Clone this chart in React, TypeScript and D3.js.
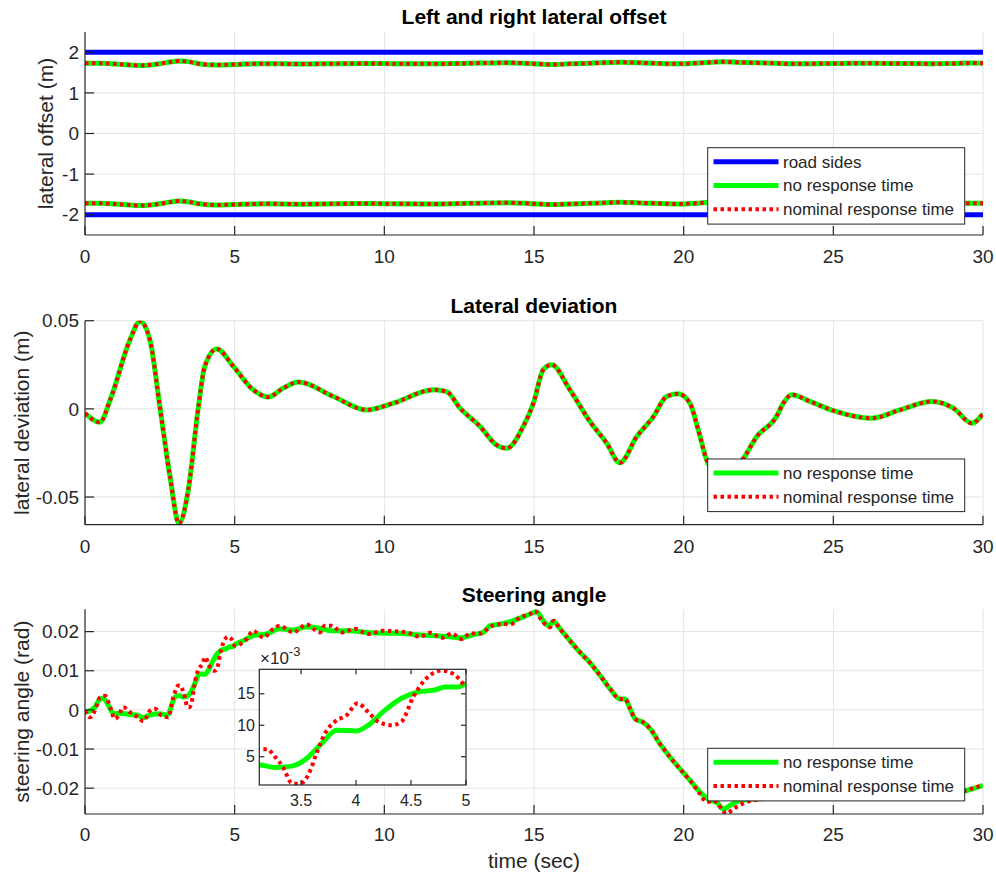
import React from 'react';
import * as d3 from 'd3';

// ---------- data ----------
const xTicks = [0, 5, 10, 15, 20, 25, 30];

// Panel 1: lateral offsets
const roadT = [0, 30];
const roadLeft = [2, 2];
const roadRight = [-2, -2];
const offsetT = [0, 0.5, 0.84, 1.5, 1.84, 2.17, 2.5, 2.84, 3.14, 3.45, 3.79, 4.4, 4.96, 5.62, 6.12, 7.13, 8.3, 9.41, 10.3, 11.64, 12.53, 13.2, 14.09, 14.98, 15.59, 16.2, 16.87, 17.87, 18.99, 19.82, 20.49, 21.3, 22.0, 22.44, 23.1, 23.61, 24.22, 25.0, 26.28, 27.23, 28.29, 29.01, 29.63, 30];
const offsetLeftNo = [1.73, 1.73, 1.72, 1.69, 1.675, 1.69, 1.72, 1.76, 1.785, 1.77, 1.72, 1.69, 1.7, 1.715, 1.72, 1.71, 1.72, 1.725, 1.72, 1.715, 1.725, 1.735, 1.745, 1.72, 1.7, 1.715, 1.73, 1.755, 1.73, 1.715, 1.735, 1.765, 1.75, 1.74, 1.73, 1.715, 1.72, 1.725, 1.73, 1.725, 1.72, 1.725, 1.735, 1.73];
const offsetRightNo = [-1.72, -1.72, -1.73, -1.76, -1.775, -1.76, -1.73, -1.69, -1.665, -1.68, -1.73, -1.76, -1.75, -1.735, -1.73, -1.74, -1.73, -1.725, -1.73, -1.735, -1.725, -1.715, -1.705, -1.73, -1.75, -1.735, -1.72, -1.695, -1.72, -1.735, -1.715, -1.685, -1.7, -1.71, -1.72, -1.735, -1.73, -1.725, -1.72, -1.725, -1.73, -1.725, -1.715, -1.72];
const offsetLeftNom = offsetLeftNo;
const offsetRightNom = offsetRightNo;
const offsetTicks = [-2, -1, 0, 1, 2];

// Panel 2: lateral deviation
const devT = [0, 0.5, 0.84, 1.5, 1.84, 2.17, 2.5, 2.84, 3.14, 3.45, 3.79, 4.0, 4.4, 4.96, 5.62, 6.12, 6.63, 7.13, 8.3, 9.41, 10.3, 11.64, 12.08, 12.53, 13.2, 13.75, 14.09, 14.64, 14.98, 15.31, 15.59, 16.2, 16.87, 17.43, 17.87, 18.43, 18.99, 19.43, 19.82, 20.21, 20.49, 20.77, 21.3, 22.0, 22.44, 23.1, 23.33, 23.61, 24.22, 25.0, 26.28, 27.23, 28.29, 29.01, 29.63, 30];
const devNo = [-0.0025, -0.0076, 0.005, 0.039, 0.0497, 0.039, 0.0013, -0.0385, -0.065, -0.046, 0.0013, 0.024, 0.034, 0.024, 0.0108, 0.0067, 0.0118, 0.0152, 0.007, -0.0006, 0.0032, 0.0108, 0.0098, 0.0004, -0.01, -0.0205, -0.0224, -0.01, 0.0032, 0.0222, 0.025, 0.0108, -0.0072, -0.0195, -0.0306, -0.0158, -0.0044, 0.007, 0.0085, 0.0032, -0.012, -0.029, -0.04, -0.028, -0.0158, -0.0044, 0.0032, 0.008, 0.0042, -0.001, -0.0053, -0.0006, 0.0042, 0.0004, -0.0081, -0.0028];
const devNom = devNo;
const devTicks = [-0.05, 0, 0.05];

// Panel 3: steering angle
const steerTNo = [0, 0.33, 0.5, 0.61, 0.84, 0.95, 1.28, 1.5, 1.73, 1.95, 2.17, 2.5, 2.75, 3.0, 3.12, 3.26, 3.415, 3.535, 3.687, 3.824, 4.005, 4.11, 4.263, 4.414, 4.565, 4.717, 4.808, 4.93, 5.0, 5.29, 5.62, 6.07, 6.5, 6.96, 7.4, 7.63, 8.3, 8.85, 9.41, 10.08, 10.52, 11.08, 11.64, 12.2, 12.53, 12.97, 13.31, 13.53, 13.87, 14.31, 14.87, 15.09, 15.31, 15.48, 15.65, 15.87, 16.2, 16.54, 16.87, 17.21, 17.54, 17.87, 18.04, 18.21, 18.38, 18.65, 18.88, 19.21, 19.55, 19.88, 20.21, 20.55, 20.88, 21.1, 21.33, 21.55, 21.89, 22.33, 23.5, 25, 26.5, 28, 29.0, 29.46, 30];
const steerNo = [-0.0006, 0.0007, 0.0028, 0.003, 0.0003, -0.0009, -0.0009, -0.0012, -0.0013, -0.002, -0.0013, -0.001, -0.0013, 0.0032, 0.0037, 0.0033, 0.0035, 0.0045, 0.0071, 0.0092, 0.0091, 0.01, 0.0124, 0.0143, 0.0153, 0.0156, 0.0161, 0.0161, 0.0166, 0.0177, 0.019, 0.0194, 0.0207, 0.0204, 0.0212, 0.0211, 0.0202, 0.0202, 0.0198, 0.0196, 0.0196, 0.0192, 0.019, 0.0187, 0.0184, 0.0192, 0.0198, 0.0215, 0.0219, 0.0228, 0.0245, 0.0251, 0.0228, 0.0215, 0.0226, 0.0207, 0.0177, 0.0147, 0.0121, 0.0088, 0.0054, 0.0028, 0.0028, 0.0003, -0.0023, -0.0032, -0.0048, -0.0087, -0.0121, -0.0151, -0.018, -0.021, -0.0231, -0.0236, -0.0253, -0.0244, -0.0231, -0.0228, -0.0222, -0.0215, -0.021, -0.0212, -0.0215, -0.0206, -0.0193];
const steerTNom = [0, 0.17, 0.33, 0.5, 0.67, 0.84, 1.0, 1.12, 1.28, 1.5, 1.73, 1.95, 2.17, 2.34, 2.56, 2.78, 2.95, 3.12, 3.19, 3.263, 3.34, 3.415, 3.49, 3.565, 3.64, 3.717, 3.81, 3.915, 4.015, 4.11, 4.2, 4.324, 4.414, 4.52, 4.626, 4.778, 4.9, 5.0, 5.4, 5.62, 5.96, 6.29, 6.5, 6.96, 7.4, 7.85, 8.0, 8.24, 8.58, 9.02, 9.47, 9.97, 10.75, 11.19, 11.53, 11.92, 12.25, 12.59, 12.86, 13.2, 13.42, 13.64, 13.98, 14.2, 14.53, 14.87, 15.03, 15.2, 15.37, 15.54, 15.65, 15.87, 16.2, 16.54, 16.87, 17.21, 17.54, 17.87, 18.04, 18.21, 18.38, 18.65, 18.88, 19.21, 19.55, 19.88, 20.21, 20.55, 20.77, 21.0, 21.44, 21.6, 21.77, 22.33, 23.5, 25, 26.5, 28, 29.0, 29.46, 30];
const steerNom = [-0.0002, -0.0019, -0.0002, 0.0032, 0.0036, 0.0007, -0.0023, -0.0015, 0.0007, -0.0006, -0.0017, -0.0029, -0.0002, 0.0003, -0.0015, -0.0019, 0.0032, 0.0062, 0.0062, 0.005, 0.0032, 0.0008, 0.0007, 0.0021, 0.0055, 0.0087, 0.0106, 0.0116, 0.0135, 0.0121, 0.0106, 0.01, 0.0106, 0.0145, 0.0172, 0.0187, 0.018, 0.0164, 0.0181, 0.0202, 0.0185, 0.0207, 0.0215, 0.0198, 0.0218, 0.0198, 0.0215, 0.0215, 0.0198, 0.0207, 0.0194, 0.0202, 0.0198, 0.0187, 0.0197, 0.0184, 0.0195, 0.0181, 0.0195, 0.0195, 0.0205, 0.0216, 0.022, 0.0218, 0.0236, 0.0245, 0.0253, 0.0235, 0.0219, 0.0211, 0.0228, 0.0207, 0.0177, 0.0147, 0.012, 0.0088, 0.0054, 0.0028, 0.0028, 0.0003, -0.0023, -0.0032, -0.0048, -0.0087, -0.0121, -0.0151, -0.018, -0.0215, -0.0236, -0.0232, -0.0265, -0.0257, -0.0248, -0.0231, -0.0224, -0.0216, -0.0211, -0.0213, -0.0216, -0.0205, -0.0192];
const steerTicks = [-0.02, -0.01, 0, 0.01, 0.02];
const insetXTicks = [3.5, 4, 4.5, 5];
const insetYTicks = [0.005, 0.01, 0.015];

// ---------- styles ----------
const FONT = '"Liberation Sans", Arial, Helvetica, sans-serif';
const AX = '#262626';
const GRID = '#e3e3e3';
const GREEN = '#00ff00';
const RED = '#ff0000';
const BLUE = '#0000ff';
const X0 = 85, X1 = 983;

type Series = { t: number[]; v: number[]; kind: 'blue' | 'green' | 'red' };

const styleOf = (k: string) =>
  k === 'blue' ? { stroke: BLUE, strokeWidth: 5 } :
  k === 'green' ? { stroke: GREEN, strokeWidth: 5 } :
  { stroke: RED, strokeWidth: 4, strokeDasharray: '3.5 3.5' };

const x = d3.scaleLinear().domain([0, 30]).range([X0, X1]);

function Legend({ top, entries }: { top: number; entries: { label: string; kind: string }[] }) {
  const left = 707.7, w = 257, rowH = 23.8;
  const h = entries.length * rowH + 5;
  return (
    <g>
      <rect x={left} y={top} width={w} height={h} fill="white" stroke={AX} strokeWidth={1} />
      {entries.map((e, i) => {
        const cy = top + 14 + i * rowH;
        return (
          <g key={i}>
            <line x1={713.5} x2={778.5} y1={cy} y2={cy} {...styleOf(e.kind)} />
            <text x={783} y={cy} dy="0.35em" fontSize={17} fill={AX} fontFamily={FONT}>{e.label}</text>
          </g>
        );
      })}
    </g>
  );
}

function Panel(props: {
  id: string; top: number; bottom: number; domain: [number, number]; yTicks: number[];
  title: string; titleY: number; ylabel: string; ylabelX: number; series: Series[];
  xLabelDy: number;
}) {
  const { id, top, bottom, domain, yTicks, title, titleY, ylabel, ylabelX, series, xLabelDy } = props;
  const y = d3.scaleLinear().domain(domain).range([bottom, top]);
  const line = (s: Series) =>
    d3.line<number>().x((_, i) => x(s.t[i])).y((d) => y(d)).curve(d3.curveMonotoneX)(s.v) || '';
  return (
    <g>
      <defs>
        <clipPath id={id}><rect x={X0} y={top} width={X1 - X0} height={bottom - top} /></clipPath>
      </defs>
      {xTicks.filter((t) => t > 0).map((t) => (
        <line key={'gx' + t} x1={x(t)} x2={x(t)} y1={top} y2={bottom} stroke={GRID} strokeWidth={1} />
      ))}
      {yTicks.map((v) => (
        <line key={'gy' + v} x1={X0} x2={X1} y1={y(v)} y2={y(v)} stroke={GRID} strokeWidth={1} />
      ))}
      <g clipPath={`url(#${id})`}>
        {series.map((s, i) => (
          <path key={i} d={line(s)} fill="none" {...styleOf(s.kind)} />
        ))}
      </g>
      <line x1={X0} x2={X0} y1={top} y2={bottom} stroke={AX} strokeWidth={1.2} />
      <line x1={X0} x2={X1} y1={bottom} y2={bottom} stroke={AX} strokeWidth={1.2} />
      {xTicks.map((t) => (
        <g key={'tx' + t}>
          <line x1={x(t)} x2={x(t)} y1={bottom} y2={bottom - 9} stroke={AX} strokeWidth={1.2} />
          <text x={x(t)} y={bottom + xLabelDy} textAnchor="middle" fontSize={19} fill={AX} fontFamily={FONT}>{String(t)}</text>
        </g>
      ))}
      {yTicks.map((v) => (
        <g key={'ty' + v}>
          <line x1={X0} x2={X0 + 9} y1={y(v)} y2={y(v)} stroke={AX} strokeWidth={1.2} />
          <text x={79} y={y(v)} dy="0.35em" textAnchor="end" fontSize={19} fill={AX} fontFamily={FONT}>{String(v)}</text>
        </g>
      ))}
      <text x={(X0 + X1) / 2} y={titleY} textAnchor="middle" fontSize={21} fontWeight="bold" fill="#000" fontFamily={FONT}>{title}</text>
      <text transform={`translate(${ylabelX},${(top + bottom) / 2}) rotate(-90)`} textAnchor="middle" fontSize={21} fill={AX} fontFamily={FONT}>{ylabel}</text>
    </g>
  );
}

function Inset() {
  const L = 259.3, R = 466, T = 669.3, B = 785;
  const xi = d3.scaleLinear().domain([3.12, 5]).range([L, R]);
  const yi = d3.scaleLinear().domain([0.0005, 0.0189]).range([B, T]);
  const mk = (t: number[], v: number[]) =>
    d3.line<number>().x((_, i) => xi(t[i])).y((d) => yi(d)).curve(d3.curveMonotoneX)(v) || '';
  return (
    <g>
      <defs>
        <clipPath id="insetclip"><rect x={L} y={T} width={R - L} height={B - T} /></clipPath>
      </defs>
      <rect x={L} y={T} width={R - L} height={B - T} fill="white" />
      <g clipPath="url(#insetclip)">
        <path d={mk(steerTNo, steerNo)} fill="none" {...styleOf('green')} />
        <path d={mk(steerTNom, steerNom)} fill="none" {...styleOf('red')} />
      </g>
      <rect x={L} y={T} width={R - L} height={B - T} fill="none" stroke={AX} strokeWidth={1.2} />
      {insetXTicks.map((t) => (
        <g key={'ix' + t}>
          <line x1={xi(t)} x2={xi(t)} y1={B} y2={B - 5} stroke={AX} strokeWidth={1.2} />
          <line x1={xi(t)} x2={xi(t)} y1={T} y2={T + 5} stroke={AX} strokeWidth={1.2} />
          <text x={xi(t)} y={806} textAnchor="middle" fontSize={16} fill={AX} fontFamily={FONT}>{String(t)}</text>
        </g>
      ))}
      {insetYTicks.map((v) => (
        <g key={'iy' + v}>
          <line x1={L} x2={L + 5} y1={yi(v)} y2={yi(v)} stroke={AX} strokeWidth={1.2} />
          <line x1={R} x2={R - 5} y1={yi(v)} y2={yi(v)} stroke={AX} strokeWidth={1.2} />
          <text x={255} y={yi(v)} dy="0.35em" textAnchor="end" fontSize={16} fill={AX} fontFamily={FONT}>{String(Math.round(v * 1000))}</text>
        </g>
      ))}
      <text x={260} y={664} fontSize={17} fill={AX} fontFamily={FONT}>
        ×10<tspan dy={-8} fontSize={13}>-3</tspan>
      </text>
    </g>
  );
}

export default function App() {
  return (
    <svg width={996} height={873} style={{ position: 'absolute', left: 0, top: 0, background: 'white' }}>
      <rect width={996} height={873} fill="white" />
      <Panel id="c1" top={32} bottom={235} domain={[-2.5, 2.5]} yTicks={offsetTicks}
        title="Left and right lateral offset" titleY={23.5} ylabel="lateral offset (m)" ylabelX={53}
        xLabelDy={28}
        series={[
          { t: roadT, v: roadLeft, kind: 'blue' },
          { t: roadT, v: roadRight, kind: 'blue' },
          { t: offsetT, v: offsetLeftNo, kind: 'green' },
          { t: offsetT, v: offsetRightNo, kind: 'green' },
          { t: offsetT, v: offsetLeftNom, kind: 'red' },
          { t: offsetT, v: offsetRightNom, kind: 'red' },
        ]} />
      <Legend top={147.7} entries={[
        { label: 'road sides', kind: 'blue' },
        { label: 'no response time', kind: 'green' },
        { label: 'nominal response time', kind: 'red' },
      ]} />
      <Panel id="c2" top={320.7} bottom={524.7} domain={[-0.0657, 0.05]} yTicks={devTicks}
        title="Lateral deviation" titleY={312.5} ylabel="lateral deviation (m)" ylabelX={28.5}
        xLabelDy={28.5}
        series={[
          { t: devT, v: devNo, kind: 'green' },
          { t: devT, v: devNom, kind: 'red' },
        ]} />
      <Legend top={459} entries={[
        { label: 'no response time', kind: 'green' },
        { label: 'nominal response time', kind: 'red' },
      ]} />
      <Panel id="c3" top={609.3} bottom={814} domain={[-0.0266, 0.0257]} yTicks={steerTicks}
        title="Steering angle" titleY={601.5} ylabel="steering angle (rad)" ylabelX={28.5}
        xLabelDy={27}
        series={[
          { t: steerTNo, v: steerNo, kind: 'green' },
          { t: steerTNom, v: steerNom, kind: 'red' },
        ]} />
      <Inset />
      <Legend top={748.3} entries={[
        { label: 'no response time', kind: 'green' },
        { label: 'nominal response time', kind: 'red' },
      ]} />
      <text x={534} y={868} textAnchor="middle" fontSize={21} fill={AX} fontFamily={FONT}>time (sec)</text>
    </svg>
  );
}
